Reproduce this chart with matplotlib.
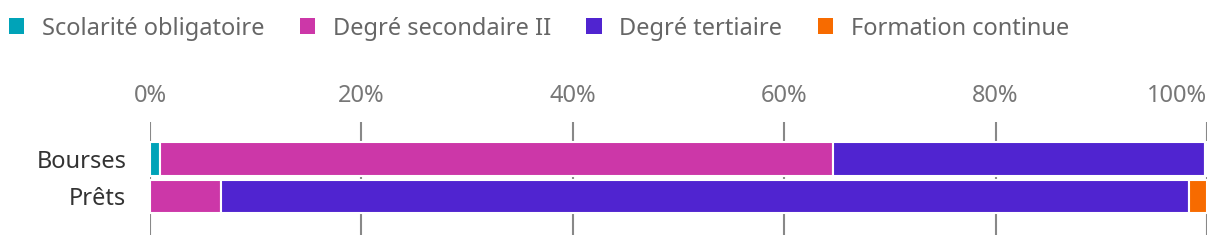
import matplotlib.pyplot as plt
from matplotlib.patches import Patch
from matplotlib.ticker import PercentFormatter

# données (parts en %)
categories = ['Bourses', 'Prêts']
series = ['Scolarité obligatoire', 'Degré secondaire II', 'Degré tertiaire', 'Formation continue']
scolarite = [0.9, 0.0]
secondaire = [63.7, 6.7]
tertiaire = [35.2, 91.6]
formation = [0.2, 1.7]
couleurs = ['#00A3B8', '#CC37A8', '#5024D0', '#F76B00']

plt.rcParams['font.family'] = ['Noto Sans', 'DejaVu Sans']

fig = plt.figure(figsize=(12.2, 2.46), dpi=100)
ax = fig.add_axes([150 / 1220, 11 / 246, 1057 / 1220, 113 / 246])

y = list(range(len(categories)))
gauche = [0.0] * len(categories)
for valeurs, couleur in zip([scolarite, secondaire, tertiaire, formation], couleurs):
    ax.barh(y, valeurs, left=gauche, height=0.9, color=couleur,
            edgecolor='white', linewidth=1.5, zorder=3)
    gauche = [g + v for g, v in zip(gauche, valeurs)]

ax.set_xlim(0, 100)
ax.set_ylim(2.03, -0.99)
ax.set_xticks([0, 20, 40, 60, 80, 100])
ax.xaxis.set_major_formatter(PercentFormatter(decimals=0))
ax.xaxis.tick_top()
ax.tick_params(axis='x', length=0, pad=10, labelsize=17, labelcolor='#777777')
ax.set_yticks(y)
ax.set_yticklabels(categories)
ax.tick_params(axis='y', length=0, pad=17, labelsize=17, labelcolor='#333333')
ax.xaxis.grid(True, color='#888888', linewidth=1.5, zorder=0)
for s in ax.spines.values():
    s.set_visible(False)

# dernier label aligné à droite pour rester dans la figure
ax.get_xticklabels()[-1].set_horizontalalignment('right')

handles = [Patch(facecolor=c, edgecolor='none') for c in couleurs]
fig.legend(handles, series, loc='upper left', bbox_to_anchor=(-8 / 1220, 1.0),
           ncol=4, frameon=False, fontsize=17, labelcolor='#666666',
           handlelength=0.65, handleheight=0.65, handletextpad=0.75,
           columnspacing=1.5, borderaxespad=0.3)

fig.savefig('out.png', dpi=100)
